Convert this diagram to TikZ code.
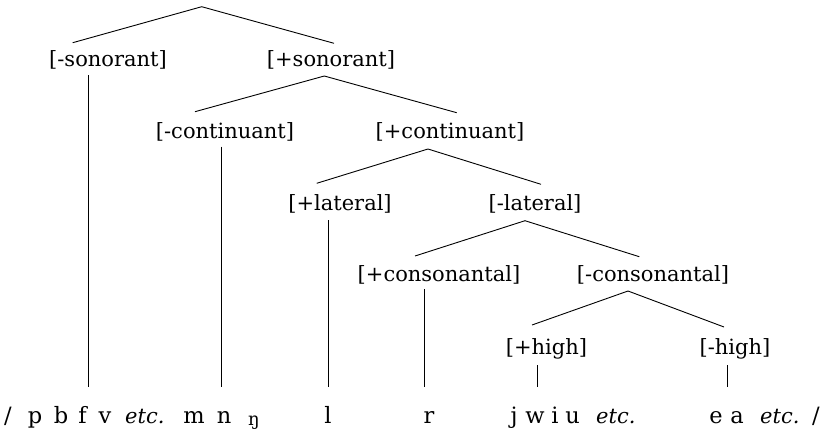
\documentclass[tikz,border=0pt]{standalone}
\usepackage{fontspec}
\setmainfont{DejaVu Serif}
\begin{document}
\begin{tikzpicture}[x=1pt,y=-1pt,
  feat/.style={inner sep=0pt, anchor=base, font=\fontsize{21}{21}\selectfont},
  seg/.style={inner sep=0pt, anchor=base, font=\fontsize{22.5}{22.5}\selectfont},
  etcs/.style={inner sep=0pt, anchor=base west, font=\fontsize{21}{21}\selectfont\itshape},
  branch/.style={line width=0.9pt}]
\useasboundingbox (0,0) rectangle (825,432);

% feature nodes
\node[feat] (sonM)  at (108,66.5) {[-sonorant]};
\node[feat] (sonP)  at (331,66.5) {[+sonorant]};
\node[feat] (contM) at (225,138) {[-continuant]};
\node[feat] (contP) at (450,138) {[+continuant]};
\node[feat] (latP)  at (340,210) {[+lateral]};
\node[feat] (latM)  at (535,210) {[-lateral]};
\node[feat] (consP) at (439,281) {[+consonantal]};
\node[feat] (consM) at (653,281) {[-consonantal]};
\node[feat] (highP) at (546.5,354) {[+high]};
\node[feat] (highM) at (735,354) {[-high]};

% segment nodes
\node[seg] (sl1) at (8,423) {/};
\node[seg] (sp) at (35,423) {p};
\node[seg] (sb) at (61,423) {b};
\node[seg] (sf) at (82.5,423) {f};
\node[seg] (sv) at (105,423) {v};
\node[etcs] (etc1) at (125,423) {etc.};
\node[seg] (sm) at (194,423) {m};
\node[seg] (sn) at (224,423) {n};
\node[seg, font=\fontsize{18}{18}\selectfont] (sng) at (254,425.5) {ŋ};
\node[seg] (sl) at (328,423) {l};
\node[seg] (sr) at (429,423) {r};
\node[seg] (sj) at (514,423) {j};
\node[seg] (sw) at (535,423) {w};
\node[seg] (si) at (555,423) {i};
\node[seg] (su) at (572.5,423) {u};
\node[etcs] (etc2) at (596,423) {etc.};
\node[seg] (se) at (716,423) {e};
\node[seg] (sa) at (737,423) {a};
\node[etcs] (etc3) at (760,423) {etc.};
\node[seg] (sl2) at (816,423) {/};

% branch points
\coordinate (root)   at (201.7,6.7);
\coordinate (rootL)  at (72.7,42.7);
\coordinate (rootR)  at (334,43.3);
\coordinate (sonPa)  at (324.3,76);
\coordinate (sonPL)  at (195,111.7);
\coordinate (sonPR)  at (456.7,112.7);
\coordinate (contPa) at (428,149);
\coordinate (contPL) at (316.7,183.3);
\coordinate (contPR) at (541,184.3);
\coordinate (latMa)  at (525,220.7);
\coordinate (latML)  at (415,256);
\coordinate (latMR)  at (639.3,256.7);
\coordinate (consMa) at (628,291);
\coordinate (consML) at (532,325);
\coordinate (consMR) at (724,327);

% vertical end points
\coordinate (vSonT)  at (88.3,75);    \coordinate (vSonB)  at (88.3,387);
\coordinate (vContT) at (221.7,146.7);\coordinate (vContB) at (221.7,387);
\coordinate (vLatT)  at (328.3,220);  \coordinate (vLatB)  at (328.3,387);
\coordinate (vConsT) at (424,289);    \coordinate (vConsB) at (424,387);
\coordinate (vHiPT)  at (537,365);    \coordinate (vHiPB)  at (537,387);
\coordinate (vHiMT)  at (727,365);    \coordinate (vHiMB)  at (727,387);

\draw[branch] (rootL) -- (root) -- (rootR);
\draw[branch] (sonPL) -- (sonPa) -- (sonPR);
\draw[branch] (contPL) -- (contPa) -- (contPR);
\draw[branch] (latML) -- (latMa) -- (latMR);
\draw[branch] (consML) -- (consMa) -- (consMR);

\draw[branch] (vSonT) -- (vSonB);
\draw[branch] (vContT) -- (vContB);
\draw[branch] (vLatT) -- (vLatB);
\draw[branch] (vConsT) -- (vConsB);
\draw[branch] (vHiPT) -- (vHiPB);
\draw[branch] (vHiMT) -- (vHiMB);
\end{tikzpicture}
\end{document}
